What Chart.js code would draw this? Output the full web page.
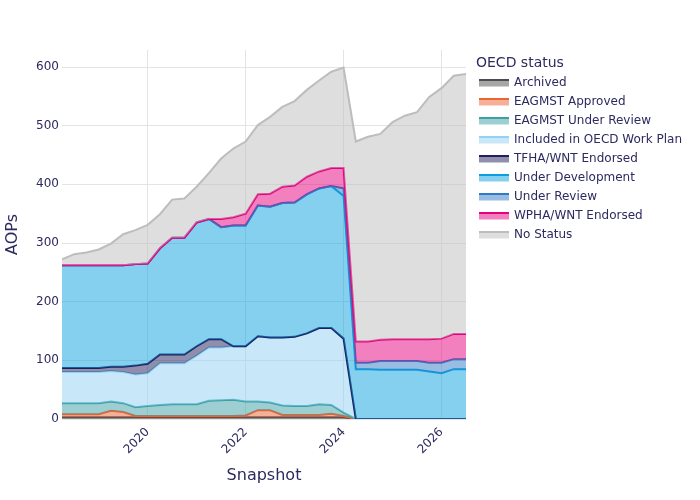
<!DOCTYPE html>
<html>
<head>
<meta charset="utf-8">
<script src="https://cdn.jsdelivr.net/npm/chart.js"></script>
<style>
  html, body { margin: 0; padding: 0; background: #fff; }
  #wrap { width: 700px; height: 500px; position: relative; }
</style>
</head>
<body>
<div id="wrap"><canvas id="aopChart"></canvas></div>
<script>
// Quarterly snapshots
var snapshots = ['2018-04','2018-07','2018-10','2019-01','2019-04','2019-07','2019-10',
  '2020-01','2020-04','2020-07','2020-10','2021-01','2021-04','2021-07','2021-10',
  '2022-01','2022-04','2022-07','2022-10','2023-01','2023-04','2023-07','2023-10',
  '2024-01','2024-04','2024-07','2024-10','2025-01','2025-04','2025-07','2025-10',
  '2026-01','2026-04','2026-07'];

// AOP counts per OECD status (stacked, bottom to top)
var archived     = [3,3,3,3,3,3,3,3,3,3,3,3,3,3,3,3,3,3,3,3,3,3,3,3, 0,0,0,0,0,0,0,0,0,0];
var eagmstApproved = [5,5,5,5,11,9,2,2,2,2,2,2,2,2,2,3,12,12,4,4,4,4,6,2, 0,0,0,0,0,0,0,0,0,0];
var eagmstReview = [19,19,19,19,16,15,15,17,19,20,20,20,26,27,28,24,15,13,16,15,15,18,15,6, 0,0,0,0,0,0,0,0,0,0];
var workPlan     = [53,53,53,53,52,53,56,56,71,70,70,83,91,90,91,94,111,111,116,118,124,130,131,126, 0,0,0,0,0,0,0,0,0,0];
var tfhaEndorsed = [7,7,7,7,7,9,15,16,15,15,15,16,14,14,0,0,0,0,0,0,0,0,0,0, 0,0,0,0,0,0,0,0,0,0];
var underDev     = [175,175,175,175,173,173,173,171,181,199,199,211,205,191,206,206,223,223,229,229,237,238,242,243, 85,85,84,84,84,84,81,78,85,85];
var underReview  = [0,0,0,0,0,0,0,0,0,0,0,0,0,0,0,0,0,0,0,0,0,0,0,13, 11,11,15,15,15,15,15,18,17,17];
var wphaEndorsed = [0,0,0,0,0,0,0,0,0,0,0,0,0,14,14,20,19,22,28,29,30,29,31,35, 36,36,36,37,37,37,40,41,43,43];
var noStatus     = [10,19,22,27,37,53,58,66,58,65,67,61,78,103,117,123,118,131,136,144,148,155,164,171, 341,349,351,370,381,387,413,427,440,443];

var xTicks = [2020, 2022, 2024, 2026];
var yTicks = [0, 100, 200, 300, 400, 500, 600];

var TEXT = '#2c2a5f';
var FONT = '"DejaVu Sans", Verdana, sans-serif';

function toYear(s) {
  var p = s.split('-');
  return parseInt(p[0], 10) + (parseInt(p[1], 10) - 1) / 12;
}
function hexToRgba(hex, a) {
  var n = parseInt(hex.slice(1), 16);
  return 'rgba(' + (n >> 16 & 255) + ',' + (n >> 8 & 255) + ',' + (n & 255) + ',' + a + ')';
}

var series = [
  { label: 'Archived', data: archived, color: '#4d4d4d' },
  { label: 'EAGMST Approved', data: eagmstApproved, color: '#eb6432' },
  { label: 'EAGMST Under Review', data: eagmstReview, color: '#3ca0a5' },
  { label: 'Included in OECD Work Plan', data: workPlan, color: '#92d2f5' },
  { label: 'TFHA/WNT Endorsed', data: tfhaEndorsed, color: '#1f1f5c' },
  { label: 'Under Development', data: underDev, color: '#0b9fe0' },
  { label: 'Under Review', data: underReview, color: '#2f7cc5' },
  { label: 'WPHA/WNT Endorsed', data: wphaEndorsed, color: '#e6007e' },
  { label: 'No Status', data: noStatus, color: '#bdbdbd' }
];

// stack by hand so that later statuses are drawn on top (like plotly stackgroup)
var running = snapshots.map(function() { return 0; });
var datasets = series.map(function(s, i) {
  var pts = s.data.map(function(v, j) {
    running[j] += v;
    return { x: toYear(snapshots[j]), y: running[j] };
  });
  return {
    label: s.label,
    data: pts,
    borderColor: s.color,
    backgroundColor: hexToRgba(s.color, 0.5),
    borderWidth: 2,
    pointRadius: 0,
    tension: 0,
    fill: i === 0 ? 'origin' : '-1',
    order: series.length - i
  };
});

// Plotly-like legend on the right
var sideLegend = {
  id: 'sideLegend',
  afterDraw: function(chart) {
    var ctx = chart.ctx;
    var x0 = chart.chartArea.right + 10;
    ctx.save();
    ctx.fillStyle = TEXT;
    ctx.textBaseline = 'middle';
    ctx.font = '14px ' + FONT;
    ctx.fillText('OECD status', x0, 63);
    ctx.font = '12px ' + FONT;
    chart.data.datasets.forEach(function(ds, i) {
      var cy = 83 + i * 19;
      ctx.fillStyle = ds.backgroundColor;
      ctx.fillRect(x0 + 3, cy - 3, 30, 6.5);
      ctx.strokeStyle = ds.borderColor;
      ctx.lineWidth = 2;
      ctx.beginPath();
      ctx.moveTo(x0 + 3, cy - 3);
      ctx.lineTo(x0 + 33, cy - 3);
      ctx.stroke();
      ctx.fillStyle = TEXT;
      ctx.fillText(ds.label, x0 + 38, cy);
    });
    ctx.restore();
  }
};

new Chart(document.getElementById('aopChart'), {
  type: 'line',
  data: { datasets: datasets },
  plugins: [sideLegend],
  options: {
    responsive: true,
    maintainAspectRatio: false,
    animation: false,
    layout: { padding: { top: 50, right: 234, left: 0, bottom: 0 } },
    plugins: {
      legend: { display: false },
      tooltip: { enabled: false }
    },
    scales: {
      x: {
        type: 'linear',
        min: toYear(snapshots[0]),
        max: toYear(snapshots[snapshots.length - 1]),
        afterBuildTicks: function(scale) { scale.ticks = xTicks.map(function(v) { return { value: v }; }); },
        afterFit: function(scale) { scale.height = 81; },
        grid: { color: '#e4e4e4', drawTicks: false },
        border: { display: false },
        ticks: {
          color: TEXT, font: { family: FONT, size: 12 }, padding: 6,
          minRotation: 45, maxRotation: 45,
          callback: function(v) { return String(v); }
        },
        title: { display: true, text: 'Snapshot', color: TEXT, font: { family: FONT, size: 16 }, padding: { top: 4, bottom: 15 } }
      },
      y: {
        min: 0,
        max: 629,
        afterBuildTicks: function(scale) { scale.ticks = yTicks.map(function(v) { return { value: v }; }); },
        afterFit: function(scale) { scale.width = 62; },
        grid: { color: '#e4e4e4', drawTicks: false },
        border: { display: false },
        ticks: { color: TEXT, font: { family: FONT, size: 12 }, padding: 3 },
        title: { display: true, text: 'AOPs', color: TEXT, font: { family: FONT, size: 16 }, padding: { top: 3, bottom: 0 } }
      }
    }
  }
});
</script>
</body>
</html>
